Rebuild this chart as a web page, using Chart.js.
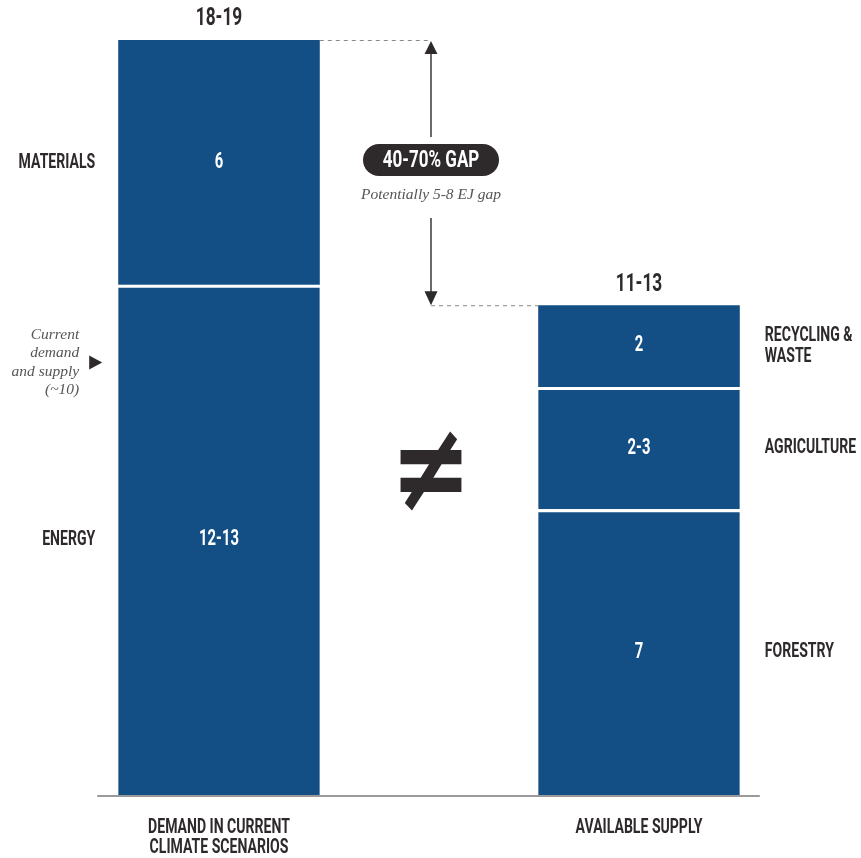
<!DOCTYPE html>
<html>
<head>
    <title>Demand vs available supply</title>
    <script src="https://cdn.jsdelivr.net/npm/chart.js@4.4.1/dist/chart.umd.min.js"></script>
    <style>
        body { margin: 0; background: #fff; }
        #wrap { width: 861px; height: 858px; position: relative; }
    </style>
</head>
<body>
<div id="wrap"><canvas id="gapChart"></canvas></div>
<script>
    // two stacks: demand (energy + materials) against supply (forestry + agriculture + recycling)
    const categories = [['DEMAND IN CURRENT', 'CLIMATE SCENARIOS'], ['AVAILABLE SUPPLY']];
    const totalLabels = ['18-19', '11-13'];

    const demandNames = [['ENERGY'], ['MATERIALS']];
    const demandValues = [12.5, 6];
    const demandText = ['12-13', '6'];

    const supplyNames = [['FORESTRY'], ['AGRICULTURE'], ['RECYCLING &', 'WASTE']];
    const supplyValues = [7, 3, 2];
    const supplyText = ['7', '2-3', '2'];

    const currentLevel = 10.6;
    const currentNote = ['Current', 'demand', 'and supply', '(~10)'];
    const gapLabel = '40-70% GAP';
    const gapNote = 'Potentially 5-8 EJ gap';
    const yMax = 18.5;

    const BLUE = '#134e85';
    const INK = '#2e2a2b';
    const BOLD = 'bold 19px Roboto';
    const NOTE = 'italic 15.5px "Liberation Serif"';

    function segment(v, i, count, names, text, col) {
        const data = [null, null];
        data[col] = v;
        return {
            label: names.join(' '),
            names: names,
            text: text,
            side: col,
            data: data,
            backgroundColor: BLUE,
            borderColor: '#ffffff',
            // white gap between stacked blocks
            borderWidth: i < count - 1 ? { top: 3, left: 0, right: 0, bottom: 0 } : 0,
            borderSkipped: false
        };
    }

    const datasets = [];
    demandValues.forEach((v, i) => datasets.push(segment(v, i, demandValues.length, demandNames[i], demandText[i], 0)));
    supplyValues.forEach((v, i) => datasets.push(segment(v, i, supplyValues.length, supplyNames[i], supplyText[i], 1)));

    // narrow headline type, squeezed sideways
    function write(ctx, text, x, y, font, color, align, squeeze, stretch) {
        ctx.save();
        ctx.font = font;
        ctx.fillStyle = color;
        ctx.textAlign = align || 'center';
        ctx.textBaseline = 'middle';
        ctx.translate(x, y);
        ctx.scale(squeeze || 1, stretch || 1);
        ctx.fillText(text, 0, 0);
        ctx.restore();
    }

    const annotations = {
        id: 'annotations',
        afterDatasetsDraw(chart) {
            const ctx = chart.ctx;
            const xs = chart.scales.x, ys = chart.scales.y;
            const area = chart.chartArea;
            const tops = [Infinity, Infinity];
            const edges = [[0, 0], [0, 0]];

            chart.data.datasets.forEach((ds, d) => {
                const bar = chart.getDatasetMeta(d).data[ds.side];
                const left = bar.x - bar.width / 2, right = bar.x + bar.width / 2;
                const mid = (bar.y + bar.base) / 2;
                tops[ds.side] = Math.min(tops[ds.side], bar.y);
                edges[ds.side] = [left, right];

                write(ctx, ds.text, bar.x, mid, 'bold 20px Roboto', '#ffffff', 'center', 0.74, 1.08);

                const n = ds.names.length;
                ds.names.forEach((line, k) => {
                    const y = mid + (k - (n - 1) / 2) * 21;
                    if (ds.side === 0) write(ctx, line, left - 23, y, BOLD, INK, 'right', 0.74, 1.08);
                    else write(ctx, line, right + 25, y, BOLD, INK, 'left', 0.74, 1.08);
                });
            });

            // totals above each stack and category names below
            totalLabels.forEach((t, i) => {
                write(ctx, t, xs.getPixelForValue(i), tops[i] - 21, 'bold 24px Roboto', INK, 'center', 0.72, 1.08);
                categories[i].forEach((line, k) => {
                    write(ctx, line, xs.getPixelForValue(i), area.bottom + 33 + k * 20, BOLD, INK, 'center', 0.74, 1.08);
                });
            });

            // baseline
            ctx.save();
            ctx.strokeStyle = '#9a9a9a';
            ctx.lineWidth = 2;
            ctx.beginPath();
            ctx.moveTo(edges[0][0] - 21, area.bottom + 1);
            ctx.lineTo(edges[1][1] + 20, area.bottom + 1);
            ctx.stroke();
            ctx.restore();

            // gap bracket between the two stack tops
            const yTop = ys.getPixelForValue(demandValues.reduce((a, b) => a + b, 0));
            const ySup = ys.getPixelForValue(supplyValues.reduce((a, b) => a + b, 0));
            const xMid = (edges[0][1] + edges[1][0]) / 2 + 2;
            const pillY = yTop + 120;

            ctx.save();
            ctx.strokeStyle = '#8a8a8a';
            ctx.lineWidth = 1.2;
            ctx.setLineDash([4, 4]);
            ctx.beginPath();
            ctx.moveTo(edges[0][1], yTop + 0.5);
            ctx.lineTo(xMid, yTop + 0.5);
            ctx.moveTo(xMid, ySup + 0.5);
            ctx.lineTo(edges[1][0], ySup + 0.5);
            ctx.stroke();
            ctx.setLineDash([]);

            ctx.strokeStyle = '#3a3a3a';
            ctx.fillStyle = INK;
            ctx.lineWidth = 1.5;
            ctx.beginPath();
            ctx.moveTo(xMid, yTop + 13);
            ctx.lineTo(xMid, pillY - 23);
            ctx.moveTo(xMid, pillY + 58);
            ctx.lineTo(xMid, ySup - 13);
            ctx.stroke();
            ctx.beginPath();
            ctx.moveTo(xMid, yTop + 1);
            ctx.lineTo(xMid - 6.5, yTop + 14);
            ctx.lineTo(xMid + 6.5, yTop + 14);
            ctx.closePath();
            ctx.moveTo(xMid, ySup);
            ctx.lineTo(xMid - 6.5, ySup - 14);
            ctx.lineTo(xMid + 6.5, ySup - 14);
            ctx.closePath();
            ctx.fill();

            // pill
            const pw = 136, ph = 32;
            ctx.beginPath();
            ctx.roundRect(xMid - pw / 2, pillY - ph / 2, pw, ph, ph / 2);
            ctx.fill();
            ctx.restore();
            write(ctx, gapLabel, xMid, pillY + 1, 'bold 23px Roboto', '#ffffff', 'center', 0.74, 1.08);
            write(ctx, gapNote, xMid, pillY + 35, NOTE, '#555555', 'center', 1);

            // current level marker
            const yCur = ys.getPixelForValue(currentLevel);
            const bx = edges[0][0];
            ctx.save();
            ctx.fillStyle = INK;
            ctx.beginPath();
            ctx.moveTo(bx - 29, yCur - 7);
            ctx.lineTo(bx - 16, yCur);
            ctx.lineTo(bx - 29, yCur + 7);
            ctx.closePath();
            ctx.fill();
            ctx.restore();
            currentNote.forEach((line, k) => {
                write(ctx, line, bx - 39, yCur + (k - 1.5) * 18.5, NOTE, '#555555', 'right', 1);
            });

            // not-equal sign between the stacks
            write(ctx, '\u2260', xMid, area.top + (area.bottom - area.top) * 0.58, 'bold 108px "DejaVu Sans"', INK, 'center', 0.9, 1.15);
        }
    };

    const ctx = document.getElementById('gapChart').getContext('2d');
    new Chart(ctx, {
        type: 'bar',
        data: { labels: categories.map(c => c.join(' ')), datasets: datasets },
        options: {
            responsive: true,
            maintainAspectRatio: false,
            animation: false,
            layout: { padding: { top: 40, bottom: 63, left: 9, right: 12 } },
            datasets: { bar: { barPercentage: 0.48, categoryPercentage: 1 } },
            scales: {
                x: { stacked: true, display: false },
                y: { stacked: true, display: false, min: 0, max: yMax }
            },
            plugins: { legend: { display: false }, tooltip: { enabled: false } }
        },
        plugins: [annotations]
    });
</script>
</body>
</html>
